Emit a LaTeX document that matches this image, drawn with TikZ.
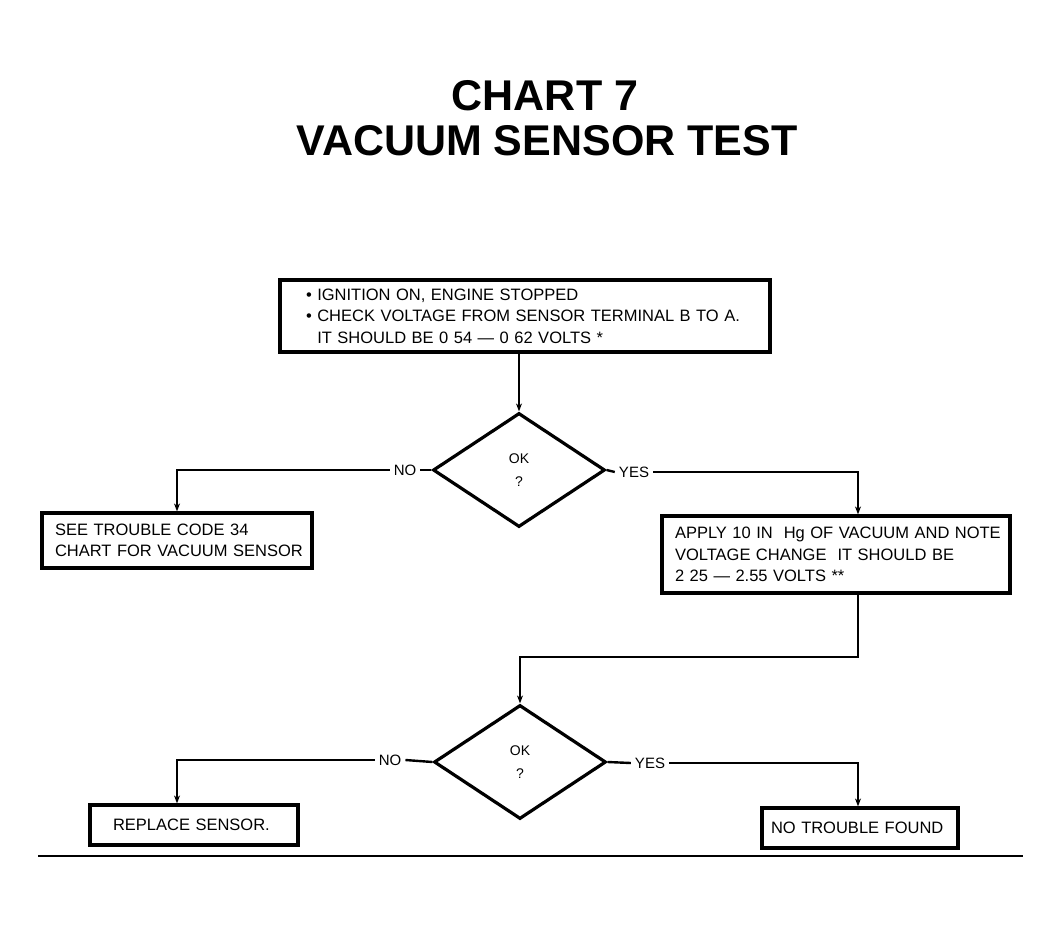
\documentclass[tikz,border=0pt]{standalone}
\usepackage{fontspec}
\setmainfont{Liberation Sans}
\usetikzlibrary{shapes.geometric,arrows.meta}
\begin{document}
\begin{tikzpicture}[x=1pt,y=-1pt,
 box/.style={draw, line width=3.2pt, inner sep=0pt, align=left, font=\fontsize{16.5}{21.5}\selectfont},
 dia/.style={draw, diamond, line width=3.2pt, minimum width=172pt, minimum height=114pt, inner sep=0pt, align=center, font=\fontsize{14}{23}\selectfont},
 lab/.style={font=\fontsize{15}{16}\selectfont, inner sep=4pt},
 conn/.style={line width=2.4pt},
 arr/.style={conn, -{Stealth[length=8pt,width=6pt]}},
 ttl/.style={font=\fontsize{43}{43}\bfseries\selectfont, anchor=base, inner sep=0pt}
]
\useasboundingbox[fill=white] (0,0) rectangle (1061,932);
\node[ttl] (t1) at (545,110) {CHART 7};
\node[ttl] (t2) at (547,155) {VACUUM SENSOR TEST};

\node[box, minimum width=490pt, minimum height=72pt, text width=438pt] (b1) at (525,316)
 {\mbox{\textbullet\ IGNITION ON, ENGINE STOPPED}\\
  \mbox{\textbullet\ CHECK VOLTAGE FROM SENSOR TERMINAL B TO A.}\\
  \mbox{\hphantom{\textbullet\ }IT SHOULD BE 0 54 — 0 62 VOLTS *}};
\node[dia] (d1) at (519,470) {OK\\?};
\node[lab] (n1) at (405,470) {NO};
\node[lab] (y1) at (634,472) {YES};
\node[box, minimum width=270pt, minimum height=55pt, text width=244pt] (b2) at (177,540.5)
 {\mbox{SEE TROUBLE CODE 34}\\\mbox{CHART FOR VACUUM SENSOR}};
\node[box, minimum width=348pt, minimum height=77pt, text width=322pt] (b3) at (836,554.5)
 {\mbox{APPLY 10 IN\ \ Hg OF VACUUM AND NOTE}\\
  \mbox{VOLTAGE CHANGE\ \ IT SHOULD BE}\\
  \mbox{2 25 — 2.55 VOLTS **}};
\node[dia] (d2) at (520,762) {OK\\?};
\node[lab] (n2) at (390,760) {NO};
\node[lab] (y2) at (650,763) {YES};
\node[box, minimum width=208pt, minimum height=40pt, text width=162pt] (b4) at (194,825)
 {\mbox{REPLACE SENSOR.}};
\node[box, minimum width=196pt, minimum height=40pt, text width=178pt] (b5) at (860,828)
 {\mbox{NO TROUBLE FOUND}};

\coordinate (j) at (858,657);
\draw[arr] (b1.south -| d1.north) -- (d1.north);
\draw[conn] (d1.west) -- (n1.east);
\draw[arr] (n1.west) -| (b2.north);
\draw[conn] (d1.east) -- (y1.west);
\draw[arr] (y1.east) -| (b3.north -| j);
\draw[arr] (b3.south -| j) -- (j) -| (d2.north);
\draw[conn] (d2.west) -- (n2.east);
\draw[arr] (n2.west) -| ([xshift=-17pt]b4.north);
\draw[conn] (d2.east) -- (y2.west);
\draw[arr] (y2.east) -| (b5.north -| j);
\draw[line width=1.5pt] (38,856) -- (1023,856);
\end{tikzpicture}
\end{document}
